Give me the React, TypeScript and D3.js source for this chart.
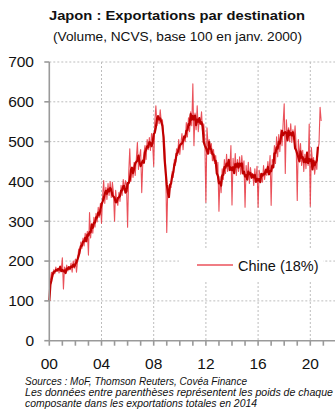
import React from "react";
import * as d3 from "d3";

const W = 335;
const H = 414;

// Monthly export volume index to China, Jan 2000 = 100 (seasonally adjusted).
const firstYear = 2000;
const chinaMonthly: number[] = [
  // 2000
  100, 150, 172, 160, 178, 168, 185, 175, 182, 170, 188, 178,
  // 2001
  208, 130, 185, 170, 190, 175, 186, 178, 195, 172, 200, 182,
  // 2002
  205, 172, 200, 230, 218, 248, 232, 258, 238, 270, 250, 275,
  // 2003
  215, 322, 258, 295, 270, 310, 285, 320, 298, 335, 310, 345,
  // 2004
  295, 360, 402, 345, 385, 355, 395, 365, 400, 360, 398, 372,
  // 2005
  300, 378, 350, 340, 372, 350, 390, 365, 405, 378, 402, 390,
  // 2006
  285, 420, 482, 400, 432, 410, 448, 415, 455, 498, 430, 462,
  // 2007
  480, 372, 448, 470, 490, 455, 505, 480, 510, 478, 520, 498,
  // 2008
  438, 548, 590, 540, 565, 545, 580, 548, 555, 520, 495, 440,
  // 2009
  272, 390, 365, 392, 385, 425, 410, 455, 440, 482, 465, 505,
  // 2010
  468, 495, 520, 480, 515, 500, 548, 512, 560, 525, 575, 540,
  // 2011
  645, 490, 572, 530, 590, 525, 560, 545, 575, 520, 545, 505,
  // 2012
  348, 535, 490, 505, 470, 495, 452, 480, 445, 465, 420, 448,
  // 2013
  325, 412, 372, 432, 405, 455, 420, 468, 425, 455, 432, 490,
  // 2014
  341, 458, 420, 470, 415, 455, 425, 462, 418, 465, 430, 452,
  // 2015
  335, 440, 405, 448, 395, 435, 408, 420, 390, 432, 400, 438,
  // 2016
  335, 428, 410, 420, 398, 440, 405, 432, 415, 450, 420, 465,
  // 2017
  340, 455, 448, 490, 445, 512, 462, 518, 475, 530, 490, 545,
  // 2018
  595, 420, 555, 505, 535, 500, 545, 498, 530, 505, 540, 490,
  // 2019
  352, 505, 460, 495, 440, 478, 425, 468, 432, 475, 440, 544,
  // 2020
  338, 485, 450, 460, 418, 445, 430, 480, 495, 586, 552,
];

// Centred moving average, published up to Aug 2020.
const trendWindow = 5;
const trendLastIndex = 20 * 12 + 7;

const yTicks = [0, 100, 200, 300, 400, 500, 600, 700];
const xLabelYears = [2000, 2004, 2008, 2012, 2016, 2020];
const xMinorYears = d3.range(2000, 2022);

const titleText = "Japon : Exportations par destination";
const subtitleText = "(Volume, NCVS, base 100 en janv. 2000)";
const legendLabel = "Chine (18%)";
const notes = [
  "Sources : MoF, Thomson Reuters, Covéa Finance",
  "Les données entre parenthèses représentent les poids de chaque",
  "composante dans les exportations totales en 2014",
];

const thinColor = "#E6333D";
const thickColor = "#C00000";
const axisColor = "#9a9a9a";
const gridColor = "#bdbdbd";
const font = "'Liberation Sans', Arial, sans-serif";

export default function App() {
  const x = d3.scaleLinear().domain([2000, 2022]).range([49.3, 336.4]);
  const y = d3.scaleLinear().domain([0, 700]).range([340.7, 62]);

  const points = chinaMonthly.map((v, i) => ({ t: firstYear + i / 12, v }));

  const half = Math.floor(trendWindow / 2);
  const trend = points.slice(0, trendLastIndex + 1).map((p, i) => {
    const h = Math.min(half, i, chinaMonthly.length - 1 - i);
    const vals = chinaMonthly.slice(i - h, i + h + 1);
    return { t: p.t, v: d3.mean(vals) as number };
  });

  const line = d3
    .line<{ t: number; v: number }>()
    .x((d) => x(d.t))
    .y((d) => y(d.v));

  const x0 = x(2000);
  const xEnd = W;
  const yTop = y(700);
  const yBase = y(0);

  // legend box
  const lg = { x: 179, y: 248, w: 144, h: 33 };

  return (
    <svg
      width={W}
      height={H}
      viewBox={`0 0 ${W} ${H}`}
      style={{ position: "absolute", left: 0, top: 0, background: "#fff" }}
    >
      <rect x={0} y={0} width={W} height={H} fill="#fff" />

      {/* title */}
      <text
        x={177}
        y={20}
        textAnchor="middle"
        fontFamily={font}
        fontWeight="bold"
        fontSize={13.5}
        textLength={256}
        lengthAdjust="spacingAndGlyphs"
        fill="#111"
      >
        {titleText}
      </text>
      <text
        x={177.5}
        y={40.5}
        textAnchor="middle"
        fontFamily={font}
        fontSize={13}
        textLength={249}
        lengthAdjust="spacingAndGlyphs"
        fill="#111"
      >
        {subtitleText}
      </text>

      {/* grid */}
      <g stroke={gridColor} strokeWidth={1} strokeDasharray="2,2">
        {yTicks
          .filter((t) => t > 0)
          .map((t) => (
            <line key={`gy${t}`} x1={x0} x2={xEnd} y1={y(t)} y2={y(t)} />
          ))}
        {xLabelYears
          .filter((yr) => yr > 2000)
          .map((yr) => (
            <line key={`gx${yr}`} x1={x(yr)} x2={x(yr)} y1={yTop} y2={yBase} />
          ))}
      </g>

      {/* series */}
      <path
        d={line(points) || ""}
        fill="none"
        stroke={thinColor}
        strokeOpacity={0.85}
        strokeWidth={1.1}
        strokeLinejoin="round"
      />
      <path
        d={line(trend) || ""}
        fill="none"
        stroke={thickColor}
        strokeWidth={2.2}
        strokeLinejoin="round"
      />

      {/* legend */}
      <rect x={lg.x} y={lg.y} width={lg.w} height={lg.h} fill="#fff" />
      <line x1={197} x2={233} y1={265} y2={265} stroke={thinColor} strokeOpacity={0.85} strokeWidth={1.5} />
      <text x={238} y={270.5} fontFamily={font} fontSize={14.5} fill="#111">
        {legendLabel}
      </text>

      {/* axes */}
      <g stroke={axisColor} strokeWidth={1.6}>
        <line x1={x0} x2={x0} y1={yTop} y2={yBase} />
        <line x1={x0} x2={xEnd} y1={yBase} y2={yBase} />
        {yTicks.map((t) => (
          <line key={`ty${t}`} x1={x0 - 5} x2={x0} y1={y(t)} y2={y(t)} />
        ))}
        {xMinorYears.map((yr) => (
          <line key={`tx${yr}`} x1={x(yr)} x2={x(yr)} y1={yBase} y2={yBase + 5} />
        ))}
      </g>

      {/* tick labels */}
      <g fontFamily={font} fontSize={15.5} fill="#111">
        {yTicks.map((t) => (
          <text key={`ly${t}`} x={34} y={y(t)} dy="0.35em" textAnchor="end">
            {t}
          </text>
        ))}
        {xLabelYears.map((yr) => (
          <text key={`lx${yr}`} x={x(yr)} y={368.5} textAnchor="middle">
            {String(yr % 100).padStart(2, "0")}
          </text>
        ))}
      </g>

      {/* notes */}
      <g fontFamily={font} fontStyle="italic" fontSize={10.5} fill="#111">
        <text x={25} y={384.5} textLength={222} lengthAdjust="spacingAndGlyphs">
          {notes[0]}
        </text>
        <text x={25} y={396} textLength={308} lengthAdjust="spacingAndGlyphs">
          {notes[1]}
        </text>
        <text x={25} y={407.3} textLength={232} lengthAdjust="spacingAndGlyphs">
          {notes[2]}
        </text>
      </g>
    </svg>
  );
}
